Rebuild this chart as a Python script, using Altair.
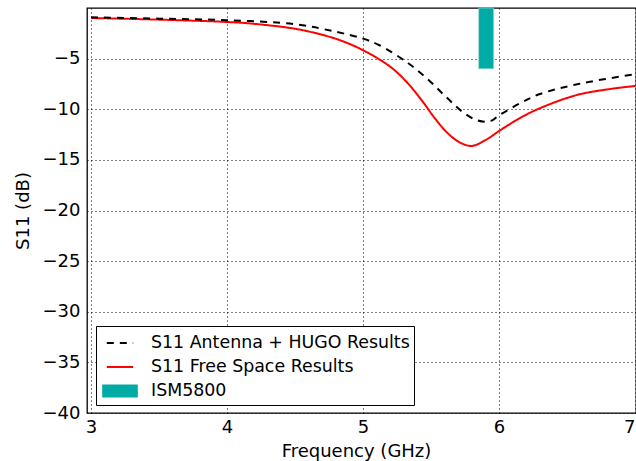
import altair as alt
import pandas as pd

# ---- data ----
HUGO = "S11 Antenna + HUGO Results"
FREE = "S11 Free Space Results"
ISM = "ISM5800"

freq_free = [3.0, 3.5, 4.0, 4.18, 4.5, 4.7, 4.83, 5.0, 5.2, 5.32, 5.44, 5.52, 5.61, 5.71, 5.8, 5.9, 6.0, 6.15, 6.3, 6.6, 7.0]
s11_free = [-0.99, -1.15, -1.38, -1.54, -2.05, -2.65, -3.18, -4.17, -5.8, -7.3, -9.27, -10.75, -12.2, -13.27, -13.62, -13.05, -12.15, -10.9, -9.9, -8.5, -7.7]

freq_hugo = [3.0, 3.5, 4.0, 4.5, 4.8, 5.0, 5.12, 5.32, 5.47, 5.61, 5.735, 5.834, 5.9, 5.95, 6.0, 6.15, 6.3, 6.6, 7.0]
s11_hugo = [-0.92, -1.05, -1.2, -1.6, -2.35, -3.02, -3.68, -5.33, -6.97, -8.78, -10.3, -11.07, -11.24, -11.1, -10.6, -9.45, -8.5, -7.46, -6.54]

band_start = [5.85]
band_end = [5.96]
band_low = [-6.0]
band_high = [0.0]

x_ticks = [3, 4, 5, 6, 7]
y_ticks = [-5, -10, -15, -20, -25, -30, -35, -40]

series_names = [HUGO, FREE, ISM]
series_colors = ["black", "#ff0000", "#00aba6"]

lines = pd.DataFrame(
    {
        "freq": freq_free + freq_hugo,
        "s11": s11_free + s11_hugo,
        "series": [FREE] * len(freq_free) + [HUGO] * len(freq_hugo),
        "order": [0] * len(freq_free) + [1] * len(freq_hugo),
    }
)
band = pd.DataFrame(
    {"x1": band_start, "x2": band_end, "y1": band_low, "y2": band_high, "series": [ISM]}
)

FONT = "DejaVu Sans"
color_scale = alt.Scale(domain=series_names, range=series_colors)
rect_path = "M-1.4,-0.46L1.4,-0.46L1.4,0.46L-1.4,0.46Z"
line_path = "M-1.1,0L1.1,0"

legend = alt.Legend(
    title=None,
    orient="none",
    legendX=9,
    legendY=318,
    strokeColor="black",
    fillColor="white",
    padding=4,
    cornerRadius=0,
    symbolSize=576,
    symbolStrokeWidth=2,
    symbolOffset=7,
    symbolType={"expr": f"datum.value === '{ISM}' ? '{rect_path}' : '{line_path}'"},
    symbolDash={"expr": f"datum.value === '{HUGO}' ? [7, 10] : [1, 0]"},
    labelFont=FONT,
    labelFontSize=17.4,
    labelColor="black",
    labelOffset=18,
    labelLimit=0,
    rowPadding=2,
)

x_scale = alt.Scale(domain=[2.97, 7.007], nice=False, zero=False)
y_scale = alt.Scale(domain=[-40, 0], nice=False, zero=False)

x_enc = alt.X(
    "freq:Q",
    scale=x_scale,
    axis=alt.Axis(values=x_ticks, format="d", title="Frequency (GHz)", titleX=269),
)
y_enc = alt.Y("s11:Q", scale=y_scale, axis=alt.Axis(values=y_ticks, format="d", title="S11 (dB)"))

band_layer = alt.Chart(band).mark_rect(stroke="#9fd6d4", strokeWidth=0.6).encode(
    x=alt.X("x1:Q", scale=x_scale),
    x2="x2:Q",
    y=alt.Y("y1:Q", scale=y_scale),
    y2="y2:Q",
    color=alt.Color("series:N", scale=color_scale, legend=legend),
)

line_layer = alt.Chart(lines).mark_line(strokeWidth=2, interpolate="catmull-rom", clip=True).encode(
    x=x_enc,
    y=y_enc,
    color=alt.Color("series:N", scale=color_scale, legend=legend),
    strokeDash=alt.StrokeDash(
        "series:N",
        scale=alt.Scale(domain=series_names, range=[[7, 6], [1, 0], [1, 0]]),
        legend=None,
    ),
    order="order:Q",
)

chart = (
    alt.layer(line_layer, band_layer)
    .properties(
        width=549,
        height=405,
        autosize=alt.AutoSizeParams(type="none"),
        padding={"left": 87, "top": 8, "right": 0, "bottom": 48},
    )
    .configure(font=FONT)
    .configure_view(stroke="black", strokeWidth=1.3)
    .configure_axis(
        labelFont=FONT,
        labelFontSize=18,
        labelColor="black",
        titleFont=FONT,
        titleFontSize=18,
        titleFontWeight="normal",
        titleColor="black",
        grid=True,
        gridColor="black",
        gridDash=[1, 3],
        gridWidth=1,
        gridOpacity=1,
        ticks=False,
        domain=False,
    )
    .configure_axisX(labelPadding=5, titlePadding=6)
    .configure_axisY(labelPadding=7, titlePadding=10)
)

chart.save("out.html", embed_options={"renderer": "svg", "actions": False})
